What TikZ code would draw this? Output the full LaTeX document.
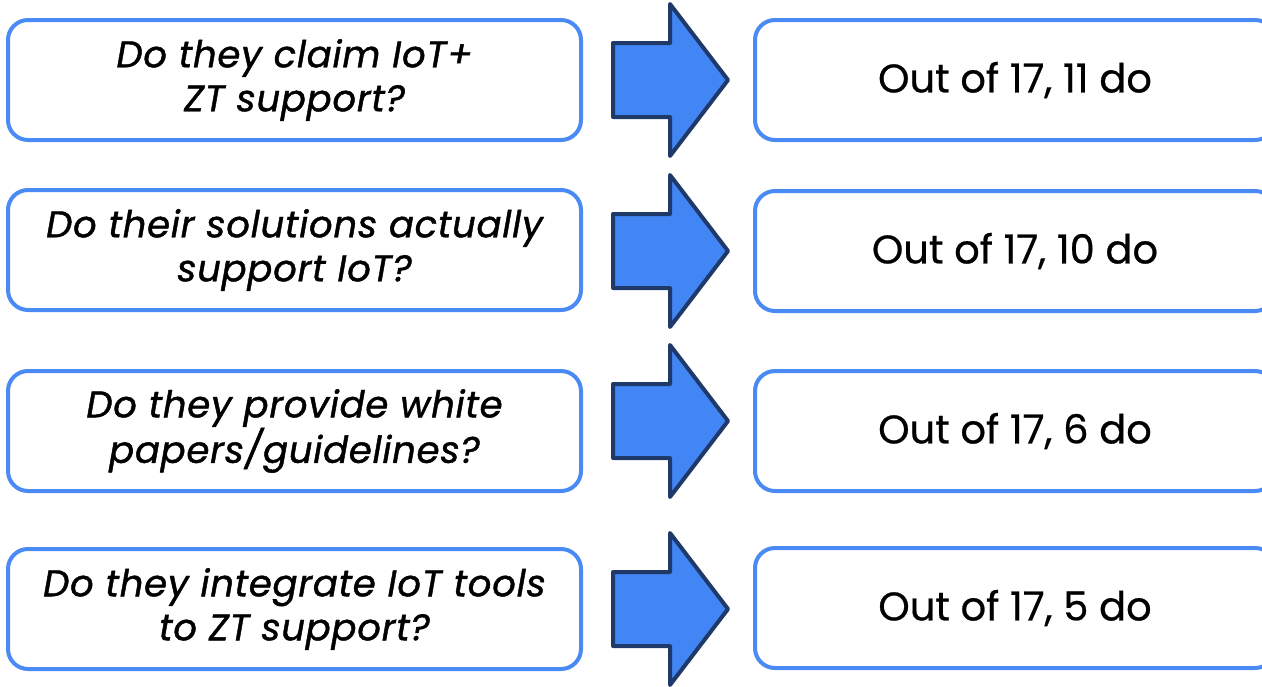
\documentclass[tikz,border=0pt]{standalone}
\usepackage{fontspec}
\setmainfont{Poppins}
\newfontfamily\qfont{Poppins}[FakeBold=1.2,LetterSpace=2]
\newfontfamily\afont{Poppins}[FakeBold=0.6]
\definecolor{boxblue}{HTML}{4A8AF4}
\definecolor{arrowfill}{HTML}{4285F4}
\definecolor{arrowline}{HTML}{1F3A68}
\begin{document}
\begin{tikzpicture}[x=1pt,y=-1pt,
  qbox/.style={draw=boxblue,line width=4pt,rounded corners=20pt,fill=white,
    minimum width=573pt,minimum height=120pt,align=center,inner sep=0pt,
    font=\qfont\fontsize{37}{44}\selectfont\itshape},
  abox/.style={draw=boxblue,line width=4pt,rounded corners=20pt,fill=white,
    minimum width=520pt,minimum height=120pt,inner sep=0pt,
    font=\afont\fontsize{40}{44}\selectfont},
  bigarrow/.style={draw=arrowline,fill=arrowfill,line width=4pt,line join=round}]
\useasboundingbox (0,0) rectangle (1262,686);
% questions
\node[qbox] (q1) at (294.5,80) {Do they claim IoT+\\ZT support?};
\node[qbox] (q2) at (294.5,250) {Do their solutions actually\\support IoT?};
\node[qbox] (q3) at (294.5,431) {Do they provide white\\papers/guidelines?};
\node[qbox] (q4) at (294.5,609) {Do they integrate IoT tools\\to ZT support?};
% answers
\node[abox] (a1) at (1015,80) {Out of 17, 11 do};
\node[abox] (a2) at (1015,251) {Out of 17, 10 do};
\node[abox] (a3) at (1015,431) {Out of 17, 6 do};
\node[abox] (a4) at (1015,608) {Out of 17, 5 do};
% arrows
\foreach \c/\n in {80/1,251/2,421/3,609/4}{
  \coordinate (ar\n) at (613,\c);
  \draw[bigarrow] (ar\n) ++(0,-37) -- ++(57,0) -- ++(0,-39) -- ++(58,76)
    -- ++(-58,76) -- ++(0,-39) -- ++(-57,0) -- cycle;
}
\end{tikzpicture}
\end{document}
